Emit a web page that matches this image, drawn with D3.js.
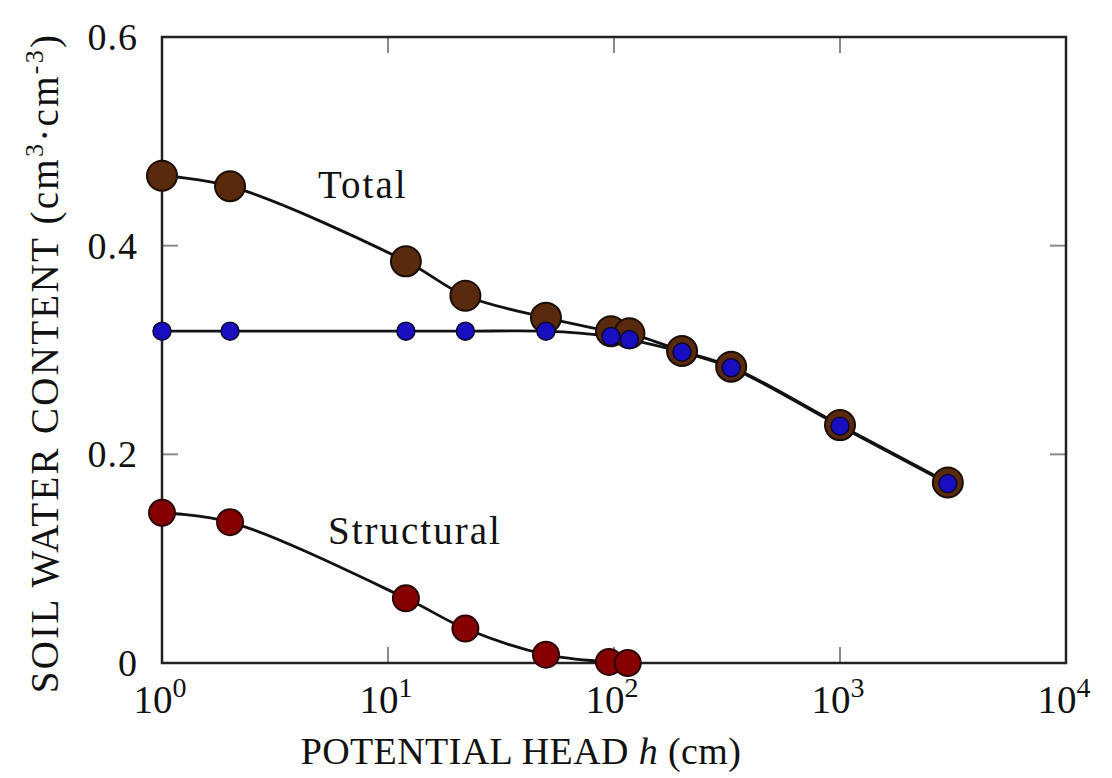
<!DOCTYPE html>
<html>
<head>
<meta charset="utf-8">
<script src="https://cdn.jsdelivr.net/npm/d3@7"></script>
<style>
  body { margin: 0; background: #fff; }
  svg { display: block; }
  text { font-family: "Liberation Serif", "DejaVu Serif", serif; fill: #111; }
</style>
</head>
<body>
<svg id="chart" width="1112" height="778"></svg>
<script>
/*********************** data ***********************/
const heads = [1, 2, 12, 22, 50, 97, 117, 200, 330, 1000, 3000];
const totalWater = [0.467, 0.457, 0.385, 0.352, 0.331, 0.318, 0.316, 0.299, 0.284, 0.228, 0.173];
const matrixWater = [0.318, 0.318, 0.318, 0.318, 0.318, 0.313, 0.310, 0.298, 0.283, 0.227, 0.172];
const structuralHeads = [1, 2, 12, 22, 50, 95, 115];
const structuralWater = [0.144, 0.135, 0.062, 0.033, 0.008, 0.001, 0.0];
const xTicks = [1, 10, 100, 1000, 10000];
const yTicks = [0, 0.2, 0.4, 0.6];
const yTickLabels = ["0", "0.2", "0.4", "0.6"];

/*********************** layout & scales ***********************/
const margin = { left: 162, top: 37, right: 46, bottom: 115 };
const width = 1112 - margin.left - margin.right;
const height = 778 - margin.top - margin.bottom;
const svg = d3.select("svg#chart");
const g = svg.append("g").attr("transform", `translate(${margin.left},${margin.top})`);

const x = d3.scaleLog().domain([1, 10000]).range([0, width]);
const y = d3.scaleLinear().domain([0, 0.6]).range([height, 0]);

/*********************** ticks ***********************/
const tickLen = 16;
const tickColor = "#8a8a8a";
g.append("g").attr("class", "ticks-left")
  .selectAll("line").data(yTicks.slice(1, -1)).join("line")
  .attr("x1", 0).attr("x2", tickLen).attr("y1", d => y(d)).attr("y2", d => y(d));
g.append("g").attr("class", "ticks-right")
  .selectAll("line").data(yTicks.slice(1, -1)).join("line")
  .attr("x1", width).attr("x2", width - tickLen).attr("y1", d => y(d)).attr("y2", d => y(d));
g.append("g").attr("class", "ticks-bottom")
  .selectAll("line").data(xTicks.slice(1, -1)).join("line")
  .attr("x1", d => x(d)).attr("x2", d => x(d)).attr("y1", height).attr("y2", height - tickLen);
g.append("g").attr("class", "ticks-top")
  .selectAll("line").data(xTicks.slice(1, -1)).join("line")
  .attr("x1", d => x(d)).attr("x2", d => x(d)).attr("y1", 0).attr("y2", tickLen);
g.selectAll("g[class^=ticks] line").attr("stroke", tickColor).attr("stroke-width", 2);

// frame
g.append("rect").attr("width", width).attr("height", height)
  .attr("fill", "none").attr("stroke", "#222").attr("stroke-width", 2.5);

/*********************** tick labels ***********************/
g.append("g").attr("class", "y-labels")
  .selectAll("text").data(yTicks).join("text")
  .attr("x", -24).attr("y", d => y(d) + 13)
  .attr("text-anchor", "end")
  .style("font-size", "38px")
  .style("letter-spacing", "1px")
  .text((d, i) => yTickLabels[i]);

const xl = g.append("g").attr("class", "x-labels")
  .selectAll("text").data(xTicks).join("text")
  .attr("x", d => x(d) - 2).attr("y", height + 50)
  .attr("text-anchor", "middle")
  .style("font-size", "39px");
xl.append("tspan").text("10");
xl.append("tspan").attr("dy", -16).style("font-size", "28px").text(d => Math.round(Math.log10(d)));

/*********************** axis titles ***********************/
const xTitle = svg.append("text")
  .attr("x", 521).attr("y", 764)
  .attr("text-anchor", "middle")
  .style("font-size", "38px")
  .style("letter-spacing", "0.4px");
xTitle.append("tspan").text("POTENTIAL HEAD ");
xTitle.append("tspan").style("font-style", "italic").text("h");
xTitle.append("tspan").text("  (cm)");

const yTitle = svg.append("text")
  .attr("transform", "translate(58,363) rotate(-90)")
  .attr("text-anchor", "middle")
  .style("font-size", "39px")
  .style("letter-spacing", "2.3px");
yTitle.append("tspan").text("SOIL WATER CONTENT (cm");
yTitle.append("tspan").attr("dy", -15).style("font-size", "26px").text("3");
yTitle.append("tspan").attr("dy", 15).text("·cm");
yTitle.append("tspan").attr("dy", -15).style("font-size", "26px").text("-3");
yTitle.append("tspan").attr("dy", 15).text(")");

/*********************** curves ***********************/
const line = d3.line()
  .x(d => x(d[0]))
  .y(d => y(d[1]))
  .curve(d3.curveCatmullRom.alpha(0.5));

const totalPts = heads.map((h, i) => [h, totalWater[i]]);
const matrixPts = heads.map((h, i) => [h, matrixWater[i]]);
const structPts = structuralHeads.map((h, i) => [h, structuralWater[i]]);

[totalPts, matrixPts, structPts].forEach(pts => {
  g.append("path").datum(pts)
    .attr("d", line)
    .attr("fill", "none")
    .attr("stroke", "#111")
    .attr("stroke-width", 2.8);
});

/*********************** markers ***********************/
g.append("g").attr("class", "total")
  .selectAll("circle").data(totalPts).join("circle")
  .attr("cx", d => x(d[0])).attr("cy", d => y(d[1])).attr("r", 15)
  .attr("fill", "#5a2a0c").attr("stroke", "#1a0d05").attr("stroke-width", 2);

g.append("g").attr("class", "matrix")
  .selectAll("circle").data(matrixPts).join("circle")
  .attr("cx", d => x(d[0])).attr("cy", d => y(d[1])).attr("r", 9)
  .attr("fill", "#1a0fc0").attr("stroke", "#0c0630").attr("stroke-width", 1.5);

g.append("g").attr("class", "structural")
  .selectAll("circle").data(structPts).join("circle")
  .attr("cx", d => x(d[0])).attr("cy", d => y(d[1])).attr("r", 13)
  .attr("fill", "#870000").attr("stroke", "#2a0000").attr("stroke-width", 2);

/*********************** series labels ***********************/
svg.append("text").attr("x", 318).attr("y", 198)
  .style("font-size", "39px").style("letter-spacing", "2px").text("Total");
svg.append("text").attr("x", 328).attr("y", 544)
  .style("font-size", "39px").style("letter-spacing", "2px").text("Structural");
</script>
</body>
</html>
